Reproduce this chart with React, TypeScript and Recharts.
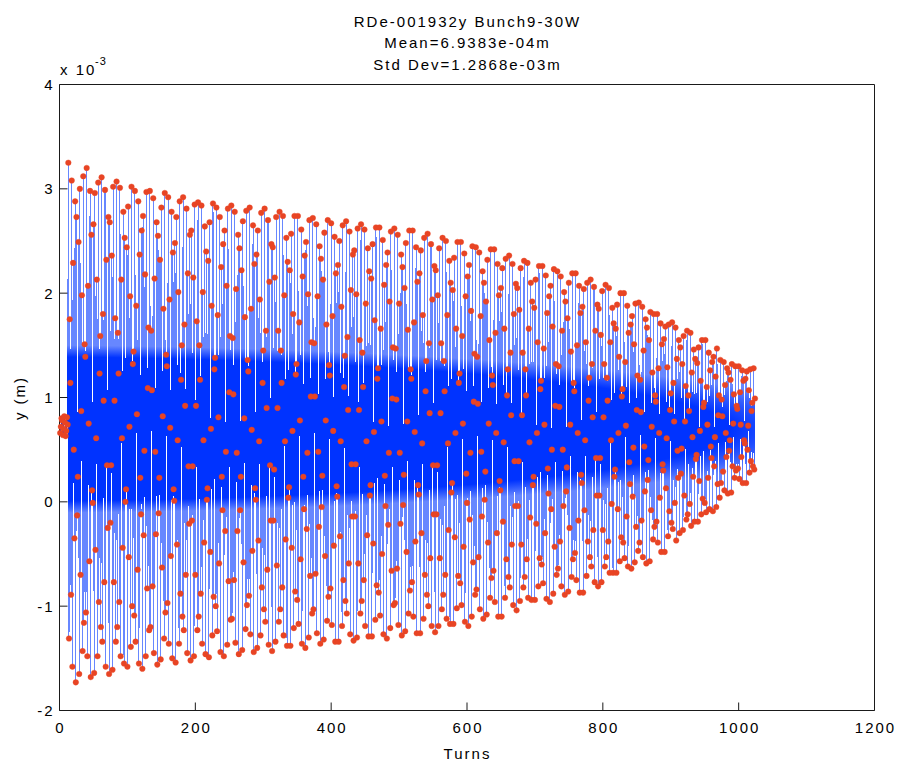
import React from 'react';
import { LineChart, Line, XAxis, YAxis } from 'recharts';

// y position in units of 1e-3 m, one value per turn (turns 1..1024)
const preKick = [0.66, 0.72, 0.80, 0.78, 0.64, 0.70, 0.82, 0.76, 0.63, 0.68, 0.81, 0.74];
const seg01 = [3.25, -1.31, 1.75, 1.14, -0.89, 3.08, -1.58, 2.29, 0.50, -0.35, 2.88, -1.73, 2.73, -0.13, 0.24, 2.49, -1.65, 3.00, -0.70, 0.87, 1.98, -1.43, 3.12, -1.16, 1.51, 1.39, -1.06, 3.20, -1.48, 2.07, 0.75, -0.57, 2.98, -1.68, 2.56, 0.11, -0.01, 2.66, -1.64, 2.96];
const seg02 = [-0.46, 0.61, 2.13, -1.48, 3.06, -0.96, 1.23, 1.59, -1.20, 3.11, -1.34, 1.80, 0.97, -0.77, 2.99, -1.58, 2.32, 0.35, -0.25, 2.73, -1.65, 2.68, -0.20, 0.35, 2.36, -1.61, 3.02, -0.77, 0.97, 1.76, -1.34, 3.07, -1.20, 1.62, 1.23, -0.96, 3.01, -1.48, 2.13, 0.61];
const seg03 = [-0.44, 2.78, -1.55, 2.53, 0.00, 0.12, 2.44, -1.58, 2.83, -0.53, 0.72, 1.97, -1.39, 3.02, -1.00, 1.32, 1.44, -1.09, 2.98, -1.34, 1.88, 0.84, -0.65, 2.88, -1.55, 2.37, 0.23, -0.12, 2.60, -1.60, 2.74, -0.32, 0.49, 2.18, -1.48, 2.97, -0.83, 1.09, 1.67, -1.23];
const seg04 = [2.98, -1.20, 1.64, 1.07, -0.81, 2.91, -1.45, 2.14, 0.48, -0.31, 2.68, -1.56, 2.55, -0.11, 0.23, 2.32, -1.51, 2.82, -0.63, 0.82, 1.85, -1.31, 2.96, -1.06, 1.41, 1.30, -0.97, 2.92, -1.36, 1.94, 0.71, -0.52, 2.78, -1.50, 2.39, 0.12, 0.01, 2.48, -1.54, 2.73];
const seg05 = [-0.41, 0.59, 2.01, -1.36, 2.88, -0.88, 1.17, 1.50, -1.10, 2.92, -1.23, 1.70, 0.92, -0.70, 2.81, -1.45, 2.19, 0.34, -0.21, 2.56, -1.52, 2.60, -0.18, 0.34, 2.15, -1.48, 2.85, -0.70, 0.92, 1.73, -1.23, 2.87, -1.10, 1.50, 1.17, -0.88, 2.84, -1.36, 2.01, 0.59];
const seg06 = [-0.39, 2.64, -1.46, 2.40, 0.02, 0.13, 2.31, -1.49, 2.68, -0.48, 0.70, 1.88, -1.28, 2.86, -0.91, 1.27, 1.38, -1.00, 2.82, -1.24, 1.79, 0.81, -0.59, 2.73, -1.44, 2.25, 0.24, -0.08, 2.47, -1.48, 2.60, -0.28, 0.48, 2.07, -1.37, 2.81, -0.76, 1.05, 1.59, -1.13];
const seg07 = [2.84, -1.12, 1.57, 1.03, -0.75, 2.78, -1.35, 2.04, 0.47, -0.28, 2.56, -1.46, 2.43, -0.08, 0.24, 2.22, -1.42, 2.69, -0.58, 0.80, 1.77, -1.22, 2.79, -0.99, 1.36, 1.25, -0.90, 2.82, -1.27, 1.85, 0.69, -0.47, 2.65, -1.44, 2.28, 0.13, 0.02, 2.37, -1.40, 2.60];
const seg08 = [-0.37, 0.58, 1.94, -1.28, 2.77, -0.82, 1.14, 1.45, -1.03, 2.81, -1.15, 1.64, 0.90, -0.65, 2.70, -1.37, 2.11, 0.35, -0.18, 2.47, -1.43, 2.44, -0.18, 0.31, 2.15, -1.34, 2.73, -0.61, 0.90, 1.64, -1.15, 2.78, -1.03, 1.45, 1.14, -0.82, 2.74, -1.28, 1.98, 0.58];
const seg09 = [-0.36, 2.53, -1.38, 2.30, 0.04, 0.14, 2.22, -1.38, 2.57, -0.44, 0.68, 1.80, -1.21, 2.74, -0.86, 1.22, 1.32, -0.94, 2.74, -1.17, 1.72, 0.78, -0.55, 2.61, -1.36, 2.16, 0.24, -0.07, 2.36, -1.40, 2.49, -0.26, 0.47, 1.99, -1.30, 2.70, -0.71, 1.01, 1.53, -1.07];
const seg10 = [2.72, -1.03, 1.52, 1.01, -0.69, 2.66, -1.26, 1.97, 0.48, -0.24, 2.45, -1.36, 2.33, -0.05, 0.25, 2.13, -1.32, 2.58, -0.52, 0.78, 1.70, -1.14, 2.70, -0.91, 1.31, 1.21, -0.83, 2.67, -1.18, 1.78, 0.68, -0.42, 2.54, -1.34, 2.19, 0.15, 0.05, 2.27, -1.34, 2.50];
const seg11 = [-0.33, 0.58, 1.87, -1.19, 2.65, -0.75, 1.10, 1.40, -0.95, 2.69, -1.07, 1.58, 0.88, -0.59, 2.59, -1.27, 2.03, 0.36, -0.14, 2.37, -1.33, 2.41, -0.14, 0.36, 1.99, -1.30, 2.62, -0.59, 0.88, 1.55, -1.07, 2.66, -0.95, 1.43, 1.10, -0.75, 2.61, -1.19, 1.90, 0.58];
const seg12 = [-0.32, 2.43, -1.29, 2.21, 0.06, 0.16, 2.14, -1.29, 2.47, -0.40, 0.67, 1.74, -1.13, 2.63, -0.80, 1.18, 1.28, -0.87, 2.63, -1.09, 1.66, 0.77, -0.50, 2.51, -1.27, 2.08, 0.25, -0.04, 2.27, -1.31, 2.39, -0.22, 0.47, 1.92, -1.21, 2.59, -0.66, 0.99, 1.48, -0.99];
const seg13 = [2.62, -0.97, 1.47, 0.98, -0.64, 2.56, -1.18, 1.90, 0.47, -0.21, 2.37, -1.28, 2.25, -0.03, 0.26, 2.05, -1.24, 2.48, -0.48, 0.77, 1.65, -1.07, 2.60, -0.85, 1.27, 1.18, -0.77, 2.60, -1.10, 1.72, 0.67, -0.38, 2.44, -1.26, 2.11, 0.16, 0.07, 2.19, -1.26, 2.41];
const seg14 = [-0.30, 0.56, 1.79, -1.12, 2.53, -0.70, 1.06, 1.35, -0.89, 2.57, -1.00, 1.52, 0.85, -0.54, 2.47, -1.19, 1.94, 0.35, -0.12, 2.26, -1.25, 2.22, -0.12, 0.35, 1.98, -1.19, 2.43, -0.54, 0.85, 1.52, -1.03, 2.53, -0.89, 1.35, 1.06, -0.70, 2.50, -1.12, 1.79, 0.56];
const seg15 = [-0.27, 2.31, -1.17, 2.10, 0.09, 0.18, 2.03, -1.17, 2.34, -0.34, 0.66, 1.66, -1.02, 2.49, -0.71, 1.14, 1.23, -0.78, 2.49, -0.99, 1.59, 0.75, -0.43, 2.38, -1.15, 1.97, 0.27, -0.01, 2.16, -1.19, 2.27, -0.17, 0.47, 1.83, -1.10, 2.45, -0.58, 0.96, 1.42, -0.89];
const seg16 = [2.44, -0.84, 1.39, 0.94, -0.53, 2.39, -1.03, 1.78, 0.48, -0.14, 2.21, -1.12, 2.10, 0.02, 0.29, 1.92, -1.08, 2.32, -0.39, 0.75, 1.55, -0.92, 2.42, -0.73, 1.21, 1.12, -0.66, 2.42, -0.96, 1.62, 0.66, -0.30, 2.28, -1.10, 1.98, 0.20, 0.11, 2.05, -1.10, 2.24];
const seg17 = [-0.19, 0.57, 1.66, -0.92, 2.33, -0.55, 1.02, 1.27, -0.72, 2.36, -0.82, 1.43, 0.83, -0.41, 2.28, -0.99, 1.80, 0.39, -0.04, 2.09, -1.04, 2.05, -0.04, 0.39, 1.84, -0.95, 2.24, -0.41, 0.83, 1.43, -0.82, 2.31, -0.72, 1.27, 1.02, -0.55, 2.29, -0.92, 1.66, 0.57];
const seg18 = [-0.15, 2.10, -0.94, 1.92, 0.16, 0.24, 1.86, -0.94, 2.13, -0.21, 0.66, 1.53, -0.81, 2.26, -0.54, 1.08, 1.16, -0.60, 2.26, -0.78, 1.47, 0.74, -0.30, 2.17, -0.93, 1.81, 0.32, 0.08, 1.97, -0.96, 2.07, -0.07, 0.50, 1.68, -0.88, 2.23, -0.43, 0.92, 1.32, -0.70];
const seg19 = [2.21, -0.64, 1.30, 0.91, -0.38, 2.16, -0.81, 1.64, 0.50, -0.04, 2.01, -0.89, 1.92, 0.10, 0.33, 1.76, -0.86, 2.10, -0.25, 0.74, 1.44, -0.72, 2.19, -0.55, 1.14, 1.06, -0.49, 2.19, -0.75, 1.50, 0.66, -0.18, 2.07, -0.87, 1.81, 0.26, 0.18, 1.87, -0.87, 2.04];
const seg20 = [-0.08, 0.59, 1.53, -0.71, 2.10, -0.38, 0.97, 1.19, -0.53, 2.13, -0.62, 1.32, 0.81, -0.27, 2.06, -0.77, 1.64, 0.42, 0.06, 1.89, -0.81, 1.85, 0.06, 0.42, 1.60, -0.77, 2.02, -0.27, 0.81, 1.32, -0.62, 2.08, -0.53, 1.19, 0.97, -0.38, 2.05, -0.68, 1.53, 0.59];
const seg21 = [-0.02, 1.86, -0.68, 1.71, 0.24, 0.31, 1.66, -0.68, 1.89, -0.07, 0.66, 1.39, -0.57, 2.00, -0.34, 1.01, 1.08, -0.39, 2.00, -0.54, 1.34, 0.73, -0.14, 1.88, -0.62, 1.62, 0.38, 0.17, 1.70, -0.64, 1.78, 0.05, 0.52, 1.51, -0.58, 1.90, -0.24, 0.88, 1.21, -0.47];
const seg22 = [1.91, -0.39, 1.17, 0.86, -0.18, 1.87, -0.53, 1.45, 0.53, 0.10, 1.75, -0.59, 1.67, 0.21, 0.40, 1.55, -0.57, 1.82, -0.08, 0.72];
const seg23 = [1.24, -0.36, 1.80, -0.24, 1.02, 0.96, -0.19, 1.80, -0.39, 1.28, 0.66, 0.04, 1.71, -0.48, 1.51, 0.36, 0.30, 1.56, -0.48, 1.68];
const seg24 = [0.13, 0.61, 1.29, -0.33, 1.70, -0.09, 0.88, 1.04, -0.20, 1.72, -0.26, 1.14, 0.77, -0.01, 1.67, -0.37, 1.37, 0.49, 0.23, 1.55];
const seg25 = [-0.30, 1.48, 0.27, 0.51, 1.32, -0.27, 1.59, 0.06, 0.77, 1.11, -0.17, 1.64, -0.12, 1.02, 0.87, -0.02, 1.62, -0.23, 1.24, 0.62];
const seg26 = [0.24, 1.46, -0.19, 1.37, 0.41, 0.45, 1.33, -0.19, 1.48, 0.20, 0.68, 1.16, -0.12, 1.55, 0.03, 0.91, 0.95, -0.01, 1.55, -0.10];
const seg27 = [1.10, 0.74, 0.23, 1.43, -0.07, 1.26, 0.53, 0.42, 1.34, -0.09, 1.39, 0.34, 0.62, 1.20, -0.05, 1.47, 0.17, 0.83, 1.02, 0.04];
const seg28 = [1.36, 0.18, 0.98, 0.82, 0.29, 1.34, 0.11, 1.12, 0.66, 0.43, 1.28, 0.08, 1.24, 0.49, 0.59, 1.17, 0.09, 1.32, 0.34, 0.75];
const seg29 = [1.03, 0.23, 1.30, 0.30, 0.92, 0.89, 0.32, 1.30, 0.22, 1.05, 0.74, 0.43, 1.26, 0.18, 1.16, 0.59, 0.56, 1.18, 0.18, 1.25];
const seg30 = [0.50, 0.73, 1.07, 0.28, 1.27, 0.39, 0.87, 0.95, 0.34, 1.28, 0.31, 0.99];

const xTicks = [0, 200, 400, 600, 800, 1000, 1200];
const yTicks = [-2, -1, 0, 1, 2, 3, 4];
const titleLines = ['RDe-001932y Bunch9-30W', 'Mean=6.9383e-04m', 'Std Dev=1.2868e-03m'];
const xLabel = 'Turns';
const yLabel = 'y (m)';

const yValues = [
  ...preKick, ...seg01, ...seg02, ...seg03, ...seg04, ...seg05, ...seg06, ...seg07, ...seg08,
  ...seg09, ...seg10, ...seg11, ...seg12, ...seg13, ...seg14, ...seg15, ...seg16, ...seg17,
  ...seg18, ...seg19, ...seg20, ...seg21, ...seg22, ...seg23, ...seg24, ...seg25, ...seg26,
  ...seg27, ...seg28, ...seg29, ...seg30,
];
const data = yValues.map((y, i) => ({ turn: i + 1, y }));

const FONT = '"Liberation Sans", Arial, Helvetica, sans-serif';
const AXIS = '#1a1a1a';
const textStyle = { fontFamily: FONT, fontSize: 15, letterSpacing: 2, fill: '#000' } as const;

const XTick = (p: any) => (
  <text x={p.x + 1} y={p.y + 30.2} textAnchor="middle" style={textStyle}>
    {p.payload.value}
  </text>
);
const YTick = (p: any) => (
  <text x={p.x} y={p.y + 5.4} textAnchor="end" style={textStyle}>
    {p.payload.value}
  </text>
);

export default function App() {
  return (
    <div style={{ position: 'absolute', left: 0, top: 0, width: 899, height: 761, background: '#fff' }}>
      <style>{'.recharts-line-curve { shape-rendering: crispEdges; }'}</style>
      <svg width={0} height={0} style={{ position: 'absolute' }}>
        <defs>
          {/* dense core of the trace is saturated, the outer excursions lighter */}
          <radialGradient
            id="traceShade"
            gradientUnits="userSpaceOnUse"
            cx={0}
            cy={0}
            r={1}
            gradientTransform="translate(0 429) scale(850 84)"
          >
            <stop offset="0" stopColor="#0033ff" />
            <stop offset="0.86" stopColor="#0033ff" />
            <stop offset="1" stopColor="#6787ff" />
          </radialGradient>
        </defs>
      </svg>
      <LineChart
        width={899}
        height={761}
        data={data}
        margin={{ top: 74.5, right: 14.5, bottom: 20.5, left: 9.5 }}
      >
        <XAxis
          xAxisId="b"
          dataKey="turn"
          type="number"
          domain={[0, 1200]}
          ticks={xTicks}
          interval={0}
          orientation="bottom"
          height={30}
          tickSize={-8}
          tickMargin={0}
          axisLine={{ stroke: AXIS }}
          tickLine={{ stroke: AXIS }}
          tick={XTick}
        />
        <XAxis
          xAxisId="t"
          dataKey="turn"
          type="number"
          domain={[0, 1200]}
          ticks={xTicks}
          interval={0}
          orientation="top"
          height={10}
          tickSize={-8}
          axisLine={{ stroke: AXIS }}
          tickLine={{ stroke: AXIS }}
          tick={false}
        />
        <YAxis
          yAxisId="l"
          type="number"
          domain={[-2, 4]}
          ticks={yTicks}
          interval={0}
          orientation="left"
          width={50}
          tickSize={-8}
          tickMargin={13}
          axisLine={{ stroke: AXIS }}
          tickLine={{ stroke: AXIS }}
          tick={YTick}
        />
        <YAxis
          yAxisId="r"
          type="number"
          domain={[-2, 4]}
          ticks={yTicks}
          interval={0}
          orientation="right"
          width={10}
          tickSize={-8}
          axisLine={{ stroke: AXIS }}
          tickLine={{ stroke: AXIS }}
          tick={false}
        />
        <Line
          xAxisId="b"
          yAxisId="l"
          type="linear"
          dataKey="y"
          stroke="url(#traceShade)"
          strokeWidth={1}
          dot={{ r: 2.8, fill: '#e84424', stroke: '#e84424', strokeWidth: 0.4 }}
          activeDot={false}
          isAnimationActive={false}
        />
      </LineChart>
      <svg
        width={899}
        height={761}
        style={{ position: 'absolute', left: 0, top: 0, pointerEvents: 'none' }}
      >
        {titleLines.map((t, i) => (
          <text key={t} x={467.5} y={27 + i * 21.3} textAnchor="middle" style={textStyle}>
            {t}
          </text>
        ))}
        <text x={60} y={75} style={textStyle}>x 10</text>
        <text x={95} y={65} style={{ ...textStyle, fontSize: 11, letterSpacing: 1 }}>-3</text>
        <text x={467.5} y={759} textAnchor="middle" style={textStyle}>{xLabel}</text>
        <text transform="translate(24.5,398) rotate(-90)" textAnchor="middle" style={textStyle}>
          {yLabel}
        </text>
      </svg>
    </div>
  );
}
